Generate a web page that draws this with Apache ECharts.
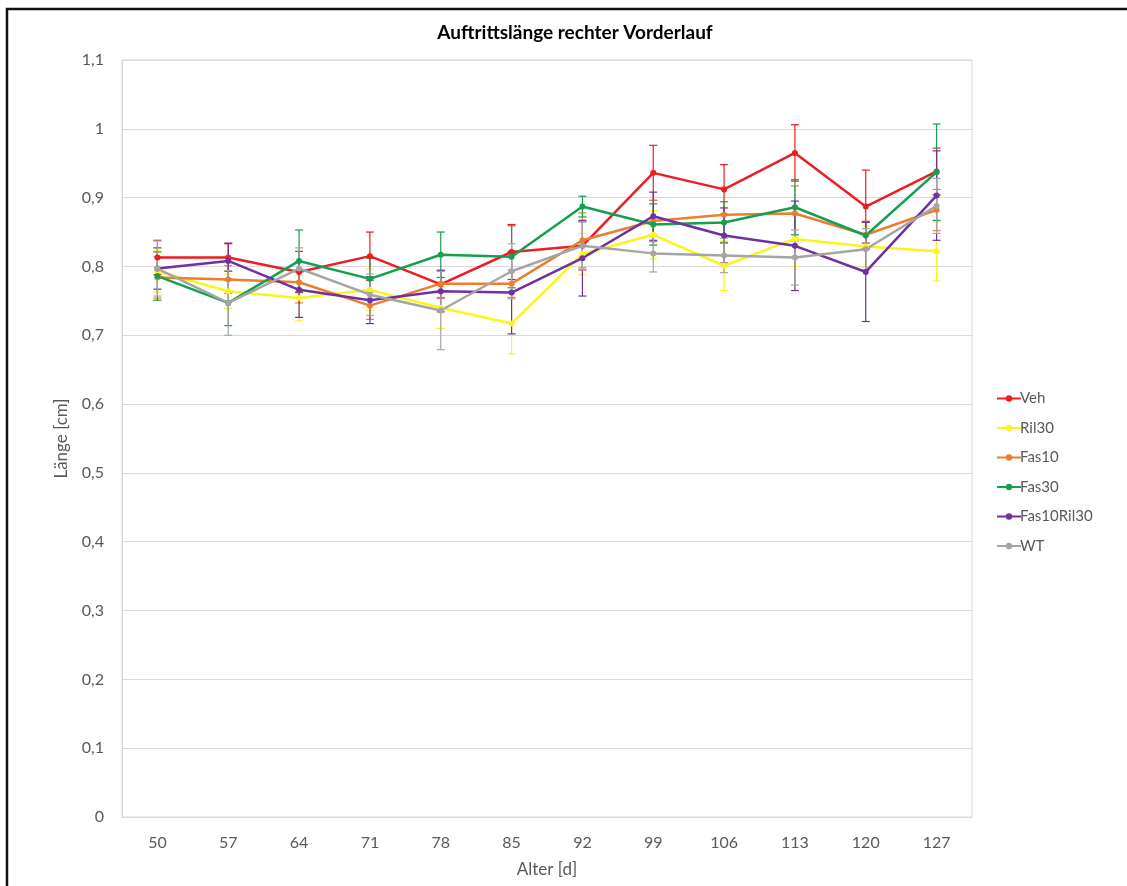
<!DOCTYPE html>
<html>
<head>
<meta charset="utf-8">
<script src="https://cdn.jsdelivr.net/npm/echarts@6/dist/echarts.min.js"></script>
<style>
  html, body { margin: 0; padding: 0; background: #fff; }
  #chart { width: 1127px; height: 886px; }
</style>
</head>
<body>
<div id="chart"></div>
<script>
  // Alter [d]
  const days = ['50', '57', '64', '71', '78', '85', '92', '99', '106', '113', '120', '127'];

  // Mittelwerte je Gruppe
  const veh = [0.813, 0.813, 0.792, 0.815, 0.774, 0.821, 0.830, 0.936, 0.912, 0.965, 0.887, 0.938];
  const ril30 = [0.793, 0.764, 0.754, 0.766, 0.740, 0.717, 0.818, 0.846, 0.801, 0.840, 0.829, 0.822];
  const fas10 = [0.784, 0.781, 0.777, 0.743, 0.775, 0.775, 0.838, 0.866, 0.875, 0.877, 0.846, 0.882];
  const fas30 = [0.786, 0.747, 0.808, 0.782, 0.817, 0.814, 0.887, 0.861, 0.864, 0.886, 0.845, 0.937];
  const fas10ril30 = [0.797, 0.808, 0.766, 0.751, 0.764, 0.762, 0.812, 0.873, 0.845, 0.830, 0.792, 0.903];
  const wt = [0.797, 0.747, 0.797, 0.759, 0.736, 0.793, 0.830, 0.819, 0.816, 0.813, 0.825, 0.888];

  // Fehlerbalken (+/-)
  const vehErr = [0.025, 0.020, 0.030, 0.035, 0.020, 0.040, 0.035, 0.040, 0.036, 0.041, 0.053, 0.034];
  const ril30Err = [0.030, 0.025, 0.033, 0.030, 0.030, 0.044, 0.030, 0.035, 0.036, 0.040, 0.030, 0.043];
  const fas10Err = [0.030, 0.020, 0.030, 0.020, 0.020, 0.020, 0.040, 0.030, 0.040, 0.040, 0.020, 0.030];
  const fas30Err = [0.035, 0.033, 0.045, 0.030, 0.033, 0.045, 0.015, 0.030, 0.030, 0.040, 0.020, 0.070];
  const fas10ril30Err = [0.030, 0.026, 0.040, 0.034, 0.030, 0.060, 0.055, 0.035, 0.040, 0.065, 0.072, 0.065];
  const wtErr = [0.040, 0.047, 0.030, 0.030, 0.057, 0.040, 0.035, 0.027, 0.025, 0.040, 0.030, 0.040];

  const groups = [
    { name: 'Veh', color: '#ee1c25', mean: veh, err: vehErr },
    { name: 'Ril30', color: '#f9f51e', mean: ril30, err: ril30Err },
    { name: 'Fas10', color: '#ed7d31', mean: fas10, err: fas10Err },
    { name: 'Fas30', color: '#14a04f', mean: fas30, err: fas30Err },
    { name: 'Fas10Ril30', color: '#7030a0', mean: fas10ril30, err: fas10ril30Err },
    { name: 'WT', color: '#a5a5a5', mean: wt, err: wtErr }
  ];

  const font = 'Lato, "Open Sans", sans-serif';
  const textColor = '#595959';

  // Fehlerbalken als custom series
  function errorSeries(g) {
    return {
      type: 'custom',
      name: g.name + ' SD',
      z: 1,
      silent: true,
      color: g.color,
      data: g.mean.map((m, i) => [i, m - g.err[i], m + g.err[i]]),
      renderItem: function (params, api) {
        const lo = api.coord([api.value(0), api.value(1)]);
        const hi = api.coord([api.value(0), api.value(2)]);
        const half = 4;
        const style = { stroke: g.color, lineWidth: 1.2 };
        return {
          type: 'group',
          children: [
            { type: 'line', shape: { x1: lo[0], y1: lo[1], x2: hi[0], y2: hi[1] }, style: style },
            { type: 'line', shape: { x1: lo[0] - half, y1: lo[1], x2: lo[0] + half, y2: lo[1] }, style: style },
            { type: 'line', shape: { x1: hi[0] - half, y1: hi[1], x2: hi[0] + half, y2: hi[1] }, style: style }
          ]
        };
      }
    };
  }

  const series = [];
  groups.forEach(g => series.push({
    type: 'line',
    name: g.name,
    z: 3,
    data: g.mean,
    symbol: 'circle',
    symbolSize: 6,
    color: g.color,
    lineStyle: { width: 2.5, color: g.color },
    itemStyle: { color: g.color }
  }));
  groups.forEach(g => series.push(errorSeries(g)));

  const option = {
    animation: false,
    backgroundColor: '#fff',
    textStyle: { fontFamily: font },
    title: {
      text: 'Auftrittslänge rechter Vorderlauf',
      left: 570,
      textAlign: 'center',
      top: 18,
      textStyle: { fontFamily: font, fontSize: 19, fontWeight: 'bold', color: '#000' }
    },
    legend: {
      data: groups.map(g => g.name),
      orient: 'vertical',
      left: 991,
      top: 386,
      itemWidth: 24,
      itemHeight: 8,
      itemGap: 14.5,
      textStyle: { fontFamily: font, fontSize: 15, color: textColor, padding: [0, 0, 0, -6] }
    },
    grid: {
      left: 122,
      right: 155,
      top: 60,
      bottom: 69,
      show: true,
      borderColor: '#d9d9d9',
      borderWidth: 1
    },
    xAxis: {
      type: 'category',
      data: days,
      name: 'Alter [d]',
      nameLocation: 'middle',
      nameGap: 44,
      nameTextStyle: { fontFamily: font, fontSize: 17, color: textColor },
      axisLine: { lineStyle: { color: '#d9d9d9' } },
      axisTick: { show: false },
      axisLabel: { fontFamily: font, fontSize: 16, color: textColor, margin: 18 },
      splitLine: { show: false }
    },
    yAxis: {
      type: 'value',
      min: 0,
      max: 1.1,
      interval: 0.1,
      name: 'Länge [cm]',
      nameLocation: 'middle',
      nameGap: 52,
      nameTextStyle: { fontFamily: font, fontSize: 17, color: textColor },
      axisLine: { show: true, lineStyle: { color: '#d9d9d9' } },
      axisTick: { show: false },
      axisLabel: {
        fontFamily: font,
        fontSize: 16,
        color: textColor,
        margin: 18,
        formatter: v => String(Math.round(v * 10) / 10).replace('.', ',')
      },
      splitLine: { lineStyle: { color: '#d9d9d9' } }
    },
    graphic: [
      {
        type: 'polyline',
        shape: { points: [[7, 900], [7, 9], [1140, 9]] },
        style: { stroke: '#111', lineWidth: 2.5, fill: null }
      }
    ],
    series: series
  };

  const chart = echarts.init(document.getElementById('chart'));
  chart.setOption(option);
</script>
</body>
</html>
